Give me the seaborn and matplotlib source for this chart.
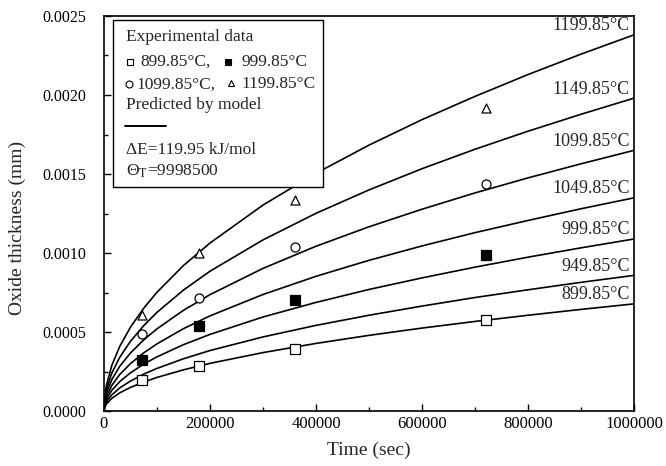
import matplotlib
matplotlib.use('Agg')
import matplotlib.pyplot as plt
import seaborn as sns
import pandas as pd
from matplotlib.patches import Rectangle
from matplotlib.lines import Line2D
from matplotlib.ticker import MultipleLocator, FormatStrFormatter

# model curves (oxide thickness in mm, x 1e-4)
time_grid = [0, 2000, 5000, 15000, 30000, 50000, 75000, 100000, 150000, 200000,
             300000, 400000, 500000, 600000, 700000, 800000, 900000, 1000000]
curve_labels = ['1199.85°C', '1149.85°C', '1099.85°C', '1049.85°C',
                '999.85°C', '949.85°C', '899.85°C']
curve_1199 = [0, 1.06, 1.68, 2.92, 4.12, 5.32, 6.52, 7.53, 9.22, 10.64, 13.04, 15.05, 16.83, 18.44, 19.91, 21.29, 22.58, 23.8]
curve_1149 = [0, 0.89, 1.40, 2.43, 3.43, 4.43, 5.42, 6.26, 7.67, 8.86, 10.84, 12.52, 14.00, 15.34, 16.57, 17.71, 18.78, 19.8]
curve_1099 = [0, 0.74, 1.17, 2.02, 2.86, 3.69, 4.52, 5.22, 6.39, 7.38, 9.04, 10.44, 11.67, 12.78, 13.81, 14.76, 15.65, 16.5]
curve_1049 = [0, 0.60, 0.95, 1.65, 2.34, 3.02, 3.70, 4.27, 5.23, 6.04, 7.39, 8.54, 9.55, 10.46, 11.30, 12.07, 12.81, 13.5]
curve_999 = [0, 0.49, 0.77, 1.34, 1.89, 2.44, 2.99, 3.45, 4.22, 4.87, 5.97, 6.89, 7.71, 8.44, 9.12, 9.75, 10.34, 10.9]
curve_949 = [0, 0.38, 0.61, 1.05, 1.49, 1.92, 2.36, 2.72, 3.33, 3.85, 4.71, 5.44, 6.08, 6.66, 7.20, 7.69, 8.16, 8.6]
curve_899 = [0, 0.30, 0.48, 0.83, 1.18, 1.52, 1.86, 2.15, 2.63, 3.04, 3.72, 4.30, 4.81, 5.27, 5.69, 6.08, 6.45, 6.8]
curves = [curve_1199, curve_1149, curve_1099, curve_1049, curve_999, curve_949, curve_899]

# experimental data (mm)
exp_time = [72000, 180000, 360000, 720000]
exp_899 = [0.000199, 0.000289, 0.000393, 0.000578]
exp_999 = [0.000325, 0.000540, 0.000704, 0.000989]
exp_1099 = [0.000490, 0.000715, 0.001037, 0.001437]
exp_1199 = [0.000610, 0.001003, 0.001336, 0.001917]

sns.set_style('ticks')
plt.rcParams['font.family'] = ['Liberation Serif', 'DejaVu Sans']
plt.rcParams['mathtext.fontset'] = 'stix'

fig = plt.figure(figsize=(6.66, 4.66), dpi=100)
ax = fig.add_axes([0.156, 0.117, 0.796, 0.849])

rows = []
for lab, vals in zip(curve_labels, curves):
    for t, v in zip(time_grid, vals):
        rows.append({'time': t, 'thick': v * 1e-4, 'curve': lab})
df = pd.DataFrame(rows)
sns.lineplot(data=df, x='time', y='thick', units='curve', estimator=None,
             color='black', lw=1.2, ax=ax, sort=False)

mk = dict(s=42, edgecolor='black', linewidth=0.9, zorder=5, ax=ax)
sns.scatterplot(x=exp_time, y=exp_899, marker='s', color='white', **mk)
sns.scatterplot(x=exp_time, y=exp_999, marker='s', color='black', **mk)
sns.scatterplot(x=exp_time, y=exp_1099, marker='o', color='white', **mk)
sns.scatterplot(x=exp_time, y=exp_1199, marker='^', color='white', **mk)

# curve labels at right end
for lab, vals in zip(curve_labels, curves):
    ax.annotate(lab, xy=(time_grid[-1], vals[-1] * 1e-4), xytext=(-3, 6.5),
                textcoords='offset points', ha='right', va='center', fontsize=13)

ax.set_xlim(0, 1000000)
ax.set_ylim(0, 0.0025)
ax.xaxis.set_major_locator(MultipleLocator(200000))
ax.xaxis.set_minor_locator(MultipleLocator(100000))
ax.yaxis.set_major_locator(MultipleLocator(0.0005))
ax.yaxis.set_minor_locator(MultipleLocator(0.00025))
ax.yaxis.set_major_formatter(FormatStrFormatter('%.4f'))
ax.xaxis.set_major_formatter(FormatStrFormatter('%d'))
ax.tick_params(which='both', direction='in', top=False, right=False,
               width=1.0, colors='black')
ax.tick_params(axis='x', labelsize=12)
ax.tick_params(axis='y', labelsize=11.5, pad=13)
ax.tick_params(which='major', length=5)
ax.tick_params(which='minor', length=3)
for sp in ax.spines.values():
    sp.set_visible(True)
    sp.set_linewidth(1.2)
    sp.set_color('black')

ax.set_xlabel('Time (sec)', fontsize=14, labelpad=7)
ax.set_ylabel('Oxide thickness (mm)', fontsize=14)
ax.yaxis.set_label_coords(-0.147, 0.464)
ax.grid(False)

# legend box
ax.add_patch(Rectangle((0.017, 0.567), 0.396, 0.422, transform=ax.transAxes,
                       facecolor='white', edgecolor='black', lw=1.0, zorder=6))
txt = dict(transform=ax.transAxes, fontsize=12.5, va='center', ha='left', zorder=7)
sym = dict(transform=ax.transAxes, ms=5, mec='black', mew=0.8, ls='none', zorder=7)
ax.text(0.0415, 0.946, 'Experimental data', **txt)
ax.plot(0.049, 0.883, marker='s', mfc='white', **sym)
ax.text(0.068, 0.883, '899.85°C,', **txt)
ax.plot(0.234, 0.883, marker='s', mfc='black', **sym)
ax.text(0.260, 0.883, '999.85°C', **txt)
ax.plot(0.047, 0.827, marker='o', mfc='white', **sym)
ax.text(0.062, 0.827, '1099.85°C,', **txt)
ax.plot(0.240, 0.829, marker='^', mfc='white', **sym)
ax.text(0.260, 0.827, '1199.85°C', **txt)
ax.text(0.0415, 0.774, 'Predicted by model', **txt)
ax.add_line(Line2D([0.040, 0.117], [0.721, 0.721], transform=ax.transAxes,
                   color='black', lw=1.4, zorder=7))
ax.text(0.0415, 0.661, 'ΔE=119.95 kJ/mol', **txt)
ax.text(0.0415, 0.606, r'Θ$_{\mathrm{T}}$=9998500', **txt)

fig.savefig('out.png', dpi=100)
